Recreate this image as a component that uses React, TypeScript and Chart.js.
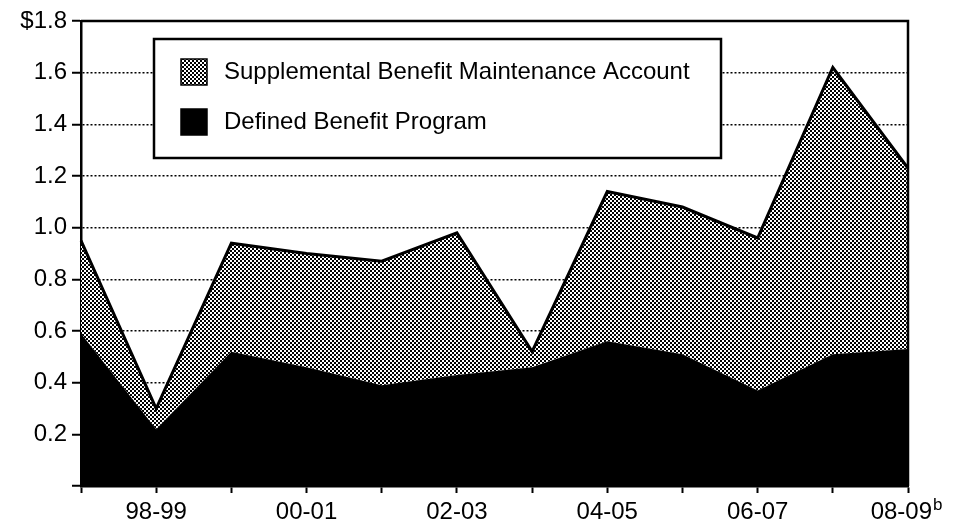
import React, { useEffect, useRef } from 'react';
import { Chart, registerables } from 'chart.js';

Chart.register(...registerables);

// ---- Data (billions of dollars) ----
const categories = ['97-98', '98-99', '99-00', '00-01', '01-02', '02-03', '03-04', '04-05', '05-06', '06-07', '07-08', '08-09'];
const xTickLabels = ['', '98-99', '', '00-01', '', '02-03', '', '04-05', '', '06-07', '', '08-09'];
const footnoteMark = 'b';
const definedBenefit = [0.59, 0.22, 0.52, 0.46, 0.39, 0.43, 0.46, 0.56, 0.51, 0.37, 0.51, 0.53];
const supplemental = [0.36, 0.08, 0.42, 0.44, 0.48, 0.55, 0.06, 0.58, 0.57, 0.59, 1.11, 0.70];
const yTickLabels = ['', '0.2', '0.4', '0.6', '0.8', '1.0', '1.2', '1.4', '1.6', '$1.8'];
const seriesNames = ['Defined Benefit Program', 'Supplemental Benefit Maintenance Account'];

const FONT = '"Liberation Sans", Arial, Helvetica, "DejaVu Sans", sans-serif';
const SUP_PAD = '\u00A0\u00A0';

function makePattern(ctx: CanvasRenderingContext2D): CanvasPattern | string {
  const c = document.createElement('canvas');
  c.width = 4;
  c.height = 4;
  const p = c.getContext('2d');
  if (!p) return '#888';
  p.fillStyle = '#fff';
  p.fillRect(0, 0, 4, 4);
  p.fillStyle = '#000';
  p.fillRect(0, 0, 2, 2);
  p.fillRect(2, 2, 2, 2);
  return ctx.createPattern(c, 'repeat') || '#888';
}

export default function App() {
  const ref = useRef<HTMLCanvasElement>(null);

  useEffect(() => {
    const canvas = ref.current;
    if (!canvas) return;
    const ctx2d = canvas.getContext('2d');
    if (!ctx2d) return;
    const hatch = makePattern(ctx2d);

    const framePlugin = {
      id: 'frameAndLegend',
      afterDatasetsDraw(chart: any) {
        const { ctx, chartArea } = chart;
        const { left, right, top, bottom } = chartArea;
        ctx.save();
        ctx.strokeStyle = '#000';
        ctx.lineWidth = 2.5;
        ctx.beginPath();
        ctx.moveTo(left, top);
        ctx.lineTo(right, top);
        ctx.lineTo(right, bottom);
        ctx.stroke();

        // legend box
        const bx = left + 73;
        const by = top + 18;
        const bw = 567;
        const bh = 119;
        ctx.fillStyle = '#fff';
        ctx.fillRect(bx, by, bw, bh);
        ctx.lineWidth = 2.5;
        ctx.strokeRect(bx, by, bw, bh);

        const items = [
          { label: chart.data.datasets[1].label, fill: hatch, cy: by + 33 },
          { label: chart.data.datasets[0].label, fill: '#000', cy: by + 83 },
        ];
        const sw = 26;
        items.forEach((it) => {
          const sx = bx + 27;
          const sy = it.cy - sw / 2;
          ctx.fillStyle = it.fill;
          ctx.fillRect(sx, sy, sw, sw);
          ctx.lineWidth = 1.5;
          ctx.strokeStyle = '#000';
          ctx.strokeRect(sx, sy, sw, sw);
          ctx.fillStyle = '#000';
          ctx.font = `24px ${FONT}`;
          ctx.textBaseline = 'middle';
          ctx.textAlign = 'left';
          ctx.fillText(it.label, bx + 70, it.cy);
        });
        ctx.restore();
      },
      afterDraw(chart: any) {
        // superscript footnote mark on the last category label
        const xs = chart.scales.x;
        const { ctx } = chart;
        const last = categories.length - 1;
        const px = xs.getPixelForTick(last);
        ctx.save();
        ctx.font = `24px ${FONT}`;
        const full = ctx.measureText(xTickLabels[last] + SUP_PAD).width;
        const main = ctx.measureText(xTickLabels[last]).width;
        const centerY = xs.top + 7 + 5 + (24 * 1.2) / 2;
        ctx.font = `17px ${FONT}`;
        ctx.fillStyle = '#000';
        ctx.textAlign = 'left';
        ctx.textBaseline = 'alphabetic';
        ctx.fillText(footnoteMark, px - full / 2 + main + 1, centerY - 2);
        ctx.restore();
      },
    };

    const font = { family: FONT, size: 24 };

    const chart = new Chart(canvas, {
      type: 'line',
      data: {
        labels: categories,
        datasets: [
          {
            label: seriesNames[0],
            data: definedBenefit,
            backgroundColor: '#000',
            borderColor: '#000',
            borderWidth: 0,
            fill: 'origin',
            pointRadius: 0,
            tension: 0,
          },
          {
            label: seriesNames[1],
            data: supplemental,
            backgroundColor: hatch as any,
            borderColor: '#000',
            borderWidth: 3,
            fill: '-1',
            pointRadius: 0,
            tension: 0,
          },
        ],
      },
      options: {
        animation: false,
        responsive: false,
        devicePixelRatio: 1,
        layout: { padding: { left: 0, top: 21, right: 47, bottom: 0 } },
        plugins: {
          legend: { display: false },
          tooltip: { enabled: false },
        },
        scales: {
          x: {
            type: 'category',
            offset: false,
            grid: {
              drawOnChartArea: false,
              drawTicks: true,
              tickLength: 7,
              tickColor: '#000',
              tickWidth: 2,
            },
            border: { display: true, color: '#000', width: 2.5 },
            ticks: {
              autoSkip: false,
              maxRotation: 0,
              minRotation: 0,
              padding: 5,
              color: '#000',
              font,
              callback: (_v: any, i: number) => (i === categories.length - 1 ? xTickLabels[i] + SUP_PAD : xTickLabels[i]),
            },
            afterFit: (s: any) => {
              s.height = 45;
            },
          },
          y: {
            stacked: true,
            min: 0,
            max: 1.8,
            ticks: {
              stepSize: 0.2,
              padding: 5,
              color: '#000',
              font,
              callback: (v: any) => yTickLabels[Math.round(Number(v) / 0.2)] ?? '',
            },
            grid: {
              color: (c: any) =>
                c.tick && (c.tick.value < 0.01 || c.tick.value > 1.79) ? 'rgba(0,0,0,0)' : '#000',
              lineWidth: 1.5,
              drawTicks: true,
              tickLength: 9,
              tickColor: '#000',
              tickWidth: 2,
              tickBorderDash: [],
            },
            border: { display: true, color: '#000', width: 2.5, dash: [2, 2] },
            afterFit: (s: any) => {
              s.width = 81;
            },
          },
        },
      },
      plugins: [framePlugin],
    });

    return () => chart.destroy();
  }, []);

  return (
    <div style={{ position: 'fixed', left: 0, top: 0, width: 955, height: 531, background: '#fff' }}>
      <canvas ref={ref} width={955} height={531} style={{ display: 'block', width: 955, height: 531 }} />
    </div>
  );
}
